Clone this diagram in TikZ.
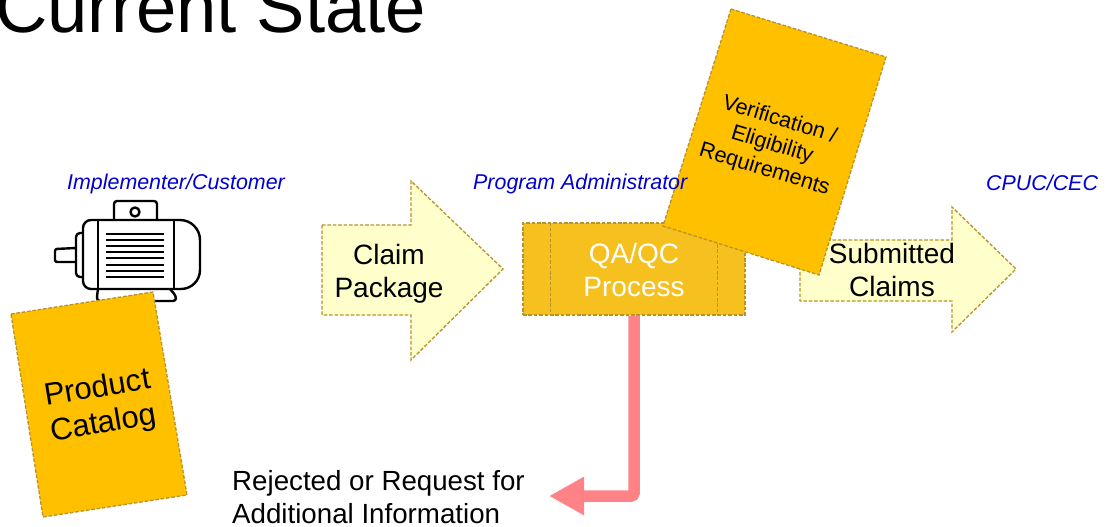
\documentclass[tikz,border=0pt]{standalone}
\usepackage{fontspec}
\setmainfont{Liberation Sans}
\usetikzlibrary{arrows.meta}
\definecolor{gold}{HTML}{FFC000}
\definecolor{qafill}{HTML}{F6C01E}
\definecolor{pale}{HTML}{FFFFCC}
\definecolor{edge}{HTML}{B8922A}
\definecolor{pink}{HTML}{FF8286}
\definecolor{lab}{HTML}{0000D0}
\tikzset{
 x=1pt,y=-1pt,
 dashedge/.style={draw=edge,line width=1.3pt,dash pattern=on 3.6pt off 1.8pt},
 role/.style={font=\fontsize{21.4}{24}\selectfont\itshape,text=lab,inner sep=0pt,anchor=west},
 big/.style={font=\fontsize{28}{33}\selectfont,align=center,inner sep=0pt},
 motor/.style={draw=black,line width=2.4pt,line join=round},
}
\begin{document}
\begin{tikzpicture}
\useasboundingbox (0,0) rectangle (1111,527);
\clip (0,0) rectangle (1111,527);
\node[font=\fontsize{72.5}{80}\selectfont,inner sep=0pt,anchor=base west] (title) at (-5,33) {Current State};
% roles
\node[role] (r1) at (67,184) {Implementer/Customer};
\node[role] (r3) at (986,183) {CPUC/CEC};
% motor
\draw[motor,rounded corners=3pt] (114,220) -- (114,201) -- (157,201) -- (157,220);
\draw[motor] (135,212) circle[radius=4.5];
\draw[motor,rounded corners=4pt] (83,233) -- (76,233) -- (76,277) -- (83,277);
\draw[motor,rounded corners=2pt] (76,248) -- (55,249) -- (55,262) -- (76,262);
\draw[motor,rounded corners=3pt] (98,289) -- (97,296) -- (97,301) -- (176,301) -- (176,296) -- (170,289);
\draw[motor,fill=white] (91,220) -- (180,220) to[out=0,in=90] (200,240) -- (200,270) to[out=-90,in=0] (181,289) -- (91,289) to[out=180,in=-90] (83,281) -- (83,228) to[out=90,in=180] (91,220) -- cycle;
\draw[motor] (98,220) -- (98,289) (174,220) -- (174,289);
\foreach \yy in {234,240,246,252,258,265,271,277} \draw[motor] (106,\yy) -- (164,\yy);
% product catalog
\draw[dashedge,fill=gold] (11,314) -- (153,292) -- (187,495) -- (43,517) -- cycle;
\node[big,font=\fontsize{31}{36}\selectfont,rotate=9.5] (pc) at (100.5,407) {Product\\Catalog};
% claim package
\draw[dashedge,fill=pale] (322,225) -- (411,225) -- (411,181) -- (503,269) -- (411,360) -- (411,315) -- (322,315) -- cycle;
\node[big] (cp) at (389,274) {Claim\\Package};
% submitted
\draw[dashedge,fill=pale] (800,240) -- (952,240) -- (952,207) -- (1016,269) -- (952,332) -- (952,301) -- (800,301) -- cycle;
\node[big] (sc) at (892,270) {Submitted\\Claims};
% QA
\node[dashedge,fill=qafill,minimum width=222pt,minimum height=92pt,inner sep=0pt] (qa) at (634,269) {};
\draw[dashedge] (qa.north west) ++(28,0) -- ++(0,92);
\draw[dashedge] (qa.north east) ++(-28,0) -- ++(0,92);
\node[big,text=white] (qat) at (634,270) {QA/QC\\Process};
% verification
\draw[dashedge,fill=gold] (731,9) -- (886,57) -- (819,275) -- (663,226) -- cycle;
\node[font=\fontsize{21.7}{26}\selectfont,align=center,inner sep=0pt,rotate=-17] (ver) at (772,145) {Verification /\\Eligibility\\Requirements};
\node[role] (r2) at (473,184) {Program Administrator};
% reject
\coordinate (rej) at (549,496);
\draw[pink,line width=11.5pt,rounded corners=3pt,-{Triangle[length=35pt,width=36pt]}] (qa.south) -- (634,496) -- (rej);
\node[font=\fontsize{27.7}{33}\selectfont,align=left,inner sep=0pt,anchor=north west] (rt) at (232,470) {Rejected or Request for\\Additional Information};
\end{tikzpicture}
\end{document}
